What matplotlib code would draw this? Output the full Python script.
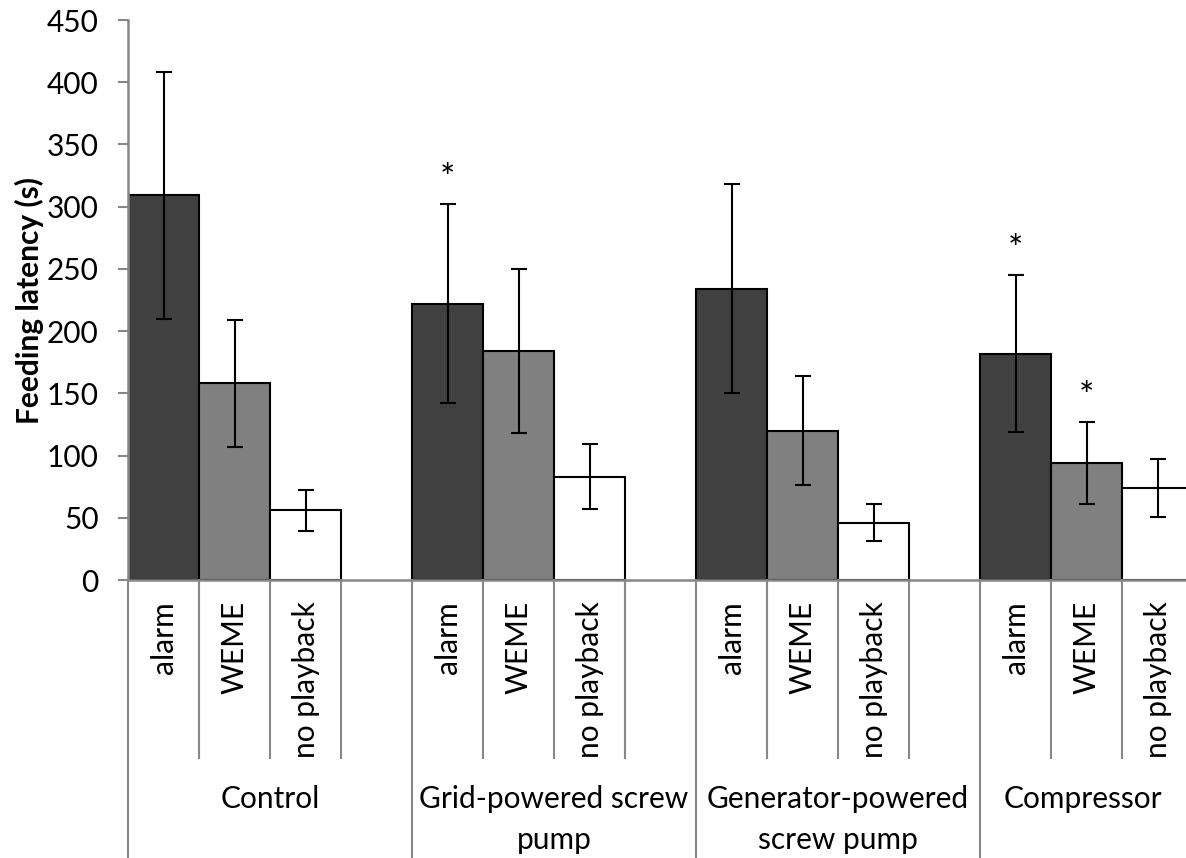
import numpy as np
import matplotlib
matplotlib.use("Agg")
from matplotlib import pyplot as plt
import matplotlib.transforms as mtransforms

plt.rcParams['font.family'] = ['Lato', 'DejaVu Sans']

# data
groups = ["Control", "Grid-powered screw\npump", "Generator-powered\nscrew pump", "Compressor"]
treatments = ["alarm", "WEME", "no playback"]
colors = ["#404040", "#808080", "#ffffff"]

means = np.array([
    [309, 158, 56],
    [222, 184, 83],
    [234, 120, 46],
    [182, 94, 74],
])
errors = np.array([
    [99, 51, 16.5],
    [80, 66, 26],
    [84, 44, 15],
    [63, 33, 23],
])
# significance markers (group, treatment)
stars = [(1, 0), (3, 0), (3, 1)]

fig = plt.figure(figsize=(11.86, 8.58), dpi=100)
ax = fig.add_axes([128 / 1186, 278 / 858, 1058 / 1186, 560 / 858])

axis_grey = "#878787"
slots_per_group = 4
x_right = 14.9

for g in range(len(groups)):
    for t in range(len(treatments)):
        x = g * slots_per_group + t + 0.5
        ax.bar(x, means[g, t], width=1.0, color=colors[t], edgecolor="black",
               linewidth=1.5, zorder=2)
        ax.errorbar(x, means[g, t], yerr=errors[g, t], fmt="none", ecolor="black",
                    elinewidth=1.5, capsize=6, capthick=1.5, zorder=3)

for g, t in stars:
    x = g * slots_per_group + t + 0.5
    ax.text(x, means[g, t] + errors[g, t] + 20, "*", ha="center", va="center",
            fontsize=26)

ax.set_xlim(0, x_right)
ax.set_ylim(0, 450)
ax.set_yticks(np.arange(0, 451, 50))
ax.tick_params(axis="y", labelsize=21.5, length=7, width=1.5, color=axis_grey, pad=14)
ax.set_xticks([])
for s in ["top", "right"]:
    ax.spines[s].set_visible(False)
for s in ["left", "bottom"]:
    ax.spines[s].set_color(axis_grey)
    ax.spines[s].set_linewidth(1.8)

ax.set_ylabel("Feeding latency (s)", fontsize=21.5, fontweight="bold", labelpad=2)

# multi-level category axis drawn below the plot
trans = mtransforms.blended_transform_factory(ax.transData, ax.transAxes)
short_bottom = -178 / 560
long_bottom = -290 / 560
for g in range(len(groups)):
    base = g * slots_per_group
    ax.plot([base, base], [0, long_bottom], color=axis_grey, lw=1.5,
            transform=trans, clip_on=False)
    for k in range(1, slots_per_group):
        ax.plot([base + k, base + k], [0, short_bottom], color=axis_grey, lw=1.5,
                transform=trans, clip_on=False)
    for t, name in enumerate(treatments):
        ax.text(base + t + 0.5, -21 / 560, name, rotation=90, ha="center", va="top",
                fontsize=21.5, transform=trans)
    # group label centred on the visible part of its span
    centre = (base + min(base + slots_per_group, x_right)) / 2
    ax.text(centre, -205 / 560, groups[g], ha="center", va="top", fontsize=21.5,
            linespacing=1.55, transform=trans)

fig.savefig("out.png", dpi=100)
